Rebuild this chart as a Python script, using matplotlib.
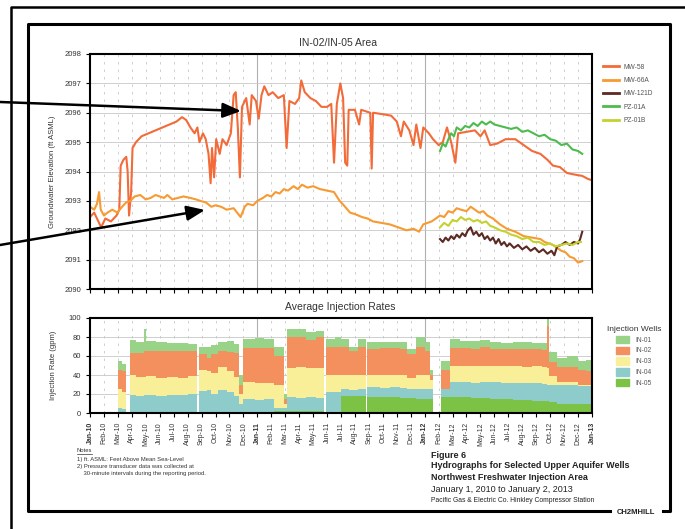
import matplotlib
matplotlib.use('Agg')
import numpy as np
import matplotlib.pyplot as plt
from matplotlib.lines import Line2D
import matplotlib.patches as mpatches

plt.rcParams['font.family'] = ['Liberation Sans', 'DejaVu Sans']

# ── Data (x = months since Jan 1, 2010) ──────────────────────────────────────
MONTHS = ['Jan', 'Feb', 'Mar', 'Apr', 'May', 'Jun',
          'Jul', 'Aug', 'Sep', 'Oct', 'Nov', 'Dec']
tick_labels = [f'{MONTHS[i % 12]}-{10 + i // 12}' for i in range(37)]

mw58_t = [0.0, 0.3, 0.6, 0.8, 1.1, 1.5, 1.9, 2.1, 2.2, 2.4, 2.6, 2.7, 2.8, 2.95,
          3.05, 3.3, 3.7, 4.2, 4.7, 5.2, 5.7, 6.2, 6.6, 6.9, 7.2, 7.5, 7.7, 7.85,
          8.1, 8.3, 8.5, 8.65, 8.75, 8.9, 9.05, 9.3, 9.5, 9.8, 10.1, 10.3, 10.45,
          10.6, 10.75, 10.9, 11.2, 11.45, 11.6, 11.9, 12.1, 12.3, 12.5, 12.8,
          13.1, 13.5, 13.9, 14.1, 14.3, 14.7, 15.0, 15.15, 15.4, 15.8, 16.2,
          16.6, 17.0, 17.3, 17.5, 17.7, 17.95, 18.15, 18.3, 18.45, 18.55, 19.0,
          19.3, 19.45, 20.1, 20.2, 20.3, 21.0, 21.6, 22.0, 22.3, 22.5, 22.9,
          23.2, 23.4, 23.7, 23.9, 24.3, 24.6, 25.0, 25.3, 25.6, 25.9, 26.2, 26.4,
          27.0, 27.6, 28.0, 28.3, 28.7, 29.2, 29.8, 30.5, 31.1, 31.7, 32.3, 32.8,
          33.2, 33.7, 34.2, 34.7, 35.3, 35.7, 36.0]
mw58_v = [2092.45, 2092.6, 2092.3, 2092.1, 2092.4, 2092.3, 2092.5, 2092.7,
          2094.2, 2094.4, 2094.5, 2094.0, 2092.5, 2093.3, 2094.8, 2095.0,
          2095.2, 2095.3, 2095.4, 2095.5, 2095.6, 2095.7, 2095.85, 2095.75,
          2095.5, 2095.3, 2095.5, 2095.0, 2095.3, 2095.1, 2094.6, 2093.6,
          2094.8, 2093.8, 2095.1, 2094.6, 2095.1, 2094.9, 2095.3, 2096.6,
          2096.7, 2095.5, 2093.8, 2096.2, 2096.5, 2095.6, 2096.6, 2096.4,
          2095.8, 2096.6, 2096.9, 2096.6, 2096.7, 2096.5, 2096.6, 2094.8,
          2096.4, 2096.3, 2096.5, 2097.1, 2096.7, 2096.5, 2096.4, 2096.2,
          2096.2, 2096.3, 2094.3, 2096.3, 2097.0, 2096.5, 2094.3, 2094.2,
          2096.1, 2096.1, 2095.6, 2096.1, 2096.0, 2094.1, 2096.0, 2095.95,
          2095.9, 2095.7, 2095.2, 2095.7, 2095.4, 2094.9, 2095.6, 2094.8,
          2095.5, 2095.3, 2095.1, 2094.9, 2095.0, 2095.5, 2095.0, 2094.3,
          2095.3, 2095.35, 2095.4, 2095.2, 2095.4, 2094.9, 2094.95, 2095.1,
          2095.1, 2094.9, 2094.7, 2094.6, 2094.4, 2094.2, 2094.15, 2093.95,
          2093.9, 2093.85, 2093.75, 2093.7]

mw66a_t = [0.0, 0.3, 0.5, 0.65, 0.77, 1.0, 1.25, 1.6, 1.96, 2.3,
           2.6, 2.9, 3.2, 3.6, 4.0, 4.35, 4.7, 5.0, 5.3, 5.55,
           5.9, 6.3, 6.7, 7.2, 7.6, 7.9, 8.3, 8.7, 9.0, 9.4,
           9.8, 10.3, 10.55, 10.8, 11.1, 11.3, 11.7, 12.0, 12.4, 12.7,
           13.0, 13.3, 13.6, 13.9, 14.2, 14.6, 14.9, 15.2, 15.6, 16.0,
           16.5, 17.0, 17.5, 17.9, 18.2, 18.65, 19.0, 19.5, 19.9, 20.3,
           20.9, 21.5, 22.1, 22.7, 23.2, 23.6, 23.9, 24.5, 25.1, 25.4,
           25.7, 26.0, 26.3, 26.6, 27.0, 27.3, 27.6, 27.9, 28.2, 28.5,
           28.9, 29.4, 29.9, 30.5, 31.1, 31.7, 32.3, 32.6, 32.9, 33.2,
           33.5, 33.8, 34.1, 34.4, 34.7, 35.0, 35.3]
mw66a_v = [2092.8, 2092.7, 2092.9, 2093.3, 2092.7, 2092.5, 2092.6, 2092.7, 2092.6, 2092.8,
           2092.95, 2093.0, 2093.15, 2093.2, 2093.05, 2093.1, 2093.2, 2093.15, 2093.1, 2093.2,
           2093.05, 2093.1, 2093.15, 2093.1, 2093.05, 2093.0, 2092.95, 2092.8, 2092.85, 2092.8,
           2092.7, 2092.75, 2092.6, 2092.45, 2092.8, 2092.9, 2092.85, 2093.0, 2093.1, 2093.2,
           2093.15, 2093.3, 2093.25, 2093.4, 2093.35, 2093.5, 2093.4, 2093.55, 2093.45, 2093.5,
           2093.4, 2093.35, 2093.3, 2093.0, 2092.85, 2092.6, 2092.55, 2092.45, 2092.4, 2092.3,
           2092.25, 2092.2, 2092.1, 2092.0, 2092.05, 2091.95, 2092.2, 2092.3, 2092.5, 2092.45,
           2092.65, 2092.6, 2092.75, 2092.7, 2092.65, 2092.8, 2092.7, 2092.6, 2092.65, 2092.5,
           2092.4, 2092.2, 2092.05, 2091.95, 2091.8, 2091.75, 2091.7, 2091.6, 2091.55, 2091.5,
           2091.4, 2091.3, 2091.25, 2091.1, 2091.05, 2090.9, 2090.95]

mw121d_t = [25.1, 25.3, 25.5, 25.7, 25.9, 26.1, 26.3, 26.5, 26.7, 26.9,
            27.1, 27.3, 27.5, 27.7, 27.9, 28.1, 28.3, 28.5, 28.7, 28.9,
            29.1, 29.3, 29.5, 29.7, 29.9, 30.1, 30.4, 30.7, 31.0, 31.3,
            31.6, 31.9, 32.2, 32.5, 32.8, 33.1, 33.3, 33.5, 33.8, 34.1,
            34.4, 34.7, 35.0, 35.15, 35.3]
mw121d_v = [2091.7, 2091.6, 2091.75, 2091.65, 2091.8, 2091.7, 2091.85, 2091.75, 2091.9, 2091.8,
            2092.0, 2092.1, 2091.85, 2091.95, 2091.8, 2091.9, 2091.7, 2091.8, 2091.65, 2091.75,
            2091.55, 2091.7, 2091.5, 2091.6, 2091.45, 2091.55, 2091.4, 2091.5, 2091.35, 2091.45,
            2091.3, 2091.4, 2091.25, 2091.35, 2091.2, 2091.3, 2091.15, 2091.45, 2091.5, 2091.6,
            2091.5, 2091.6, 2091.55, 2091.7, 2091.95]

pz01a_t = [25.1, 25.3, 25.5, 25.7, 25.9, 26.1, 26.3, 26.6, 26.9, 27.2,
           27.5, 27.8, 28.1, 28.4, 28.7, 29.0, 29.4, 29.8, 30.2, 30.6,
           31.0, 31.4, 31.8, 32.2, 32.6, 33.0, 33.4, 33.8, 34.2, 34.6,
           35.0, 35.3]
pz01a_v = [2094.7, 2094.95, 2094.85, 2095.1, 2095.3, 2095.2, 2095.5, 2095.4, 2095.55, 2095.5,
           2095.65, 2095.55, 2095.7, 2095.6, 2095.7, 2095.6, 2095.55, 2095.5, 2095.45, 2095.5,
           2095.35, 2095.4, 2095.3, 2095.2, 2095.25, 2095.1, 2095.05, 2094.9, 2094.95, 2094.75,
           2094.7, 2094.6]

pz01b_t = [25.1, 25.4, 25.7, 26.0, 26.3, 26.6, 26.9, 27.2, 27.5, 27.8,
           28.1, 28.4, 28.7, 29.0, 29.4, 29.8, 30.2, 30.6, 31.0, 31.4,
           31.8, 32.2, 32.6, 33.0, 33.4, 33.8, 34.2, 34.6, 35.0, 35.2]
pz01b_v = [2092.1, 2092.25, 2092.15, 2092.35, 2092.3, 2092.45, 2092.35, 2092.4, 2092.3, 2092.35,
           2092.25, 2092.3, 2092.15, 2092.1, 2092.0, 2091.95, 2091.85, 2091.8, 2091.7, 2091.75,
           2091.6, 2091.6, 2091.5, 2091.55, 2091.45, 2091.5, 2091.55, 2091.5, 2091.6, 2091.6]

inj_t = [0.0, 2.0, 2.3, 2.6, 2.9, 3.3, 3.9, 4.0, 4.7, 5.5, 6.3, 7.0, 7.7, 7.8,
         8.4, 8.7, 9.2, 9.8, 10.3, 10.7, 11.0, 11.8, 12.5, 13.2, 13.9, 14.1,
         14.8, 15.5, 16.2, 16.8, 16.9, 17.6, 18.0, 18.6, 19.2, 19.8, 19.9, 20.8,
         21.5, 22.2, 22.7, 23.4, 24.0, 24.4, 24.6, 25.2, 25.8, 26.5, 27.3, 28.0,
         28.7, 29.5, 30.3, 31.0, 31.7, 32.4, 32.8, 32.9, 33.5, 34.2, 35.0, 35.6,
         36.0]
in05 = [0, 0, 0, 0, 0, 0, 0, 0, 0, 0, 0, 0, 0, 0, 0, 0, 0, 0, 0, 0, 0, 0, 0,
        2, 2, 2, 2, 2, 2, 0, 0, 0, 18, 18, 18, 0, 17, 17, 17, 16, 16, 15, 15,
        15, 0, 17, 17, 17, 16, 16, 15, 15, 14, 14, 13, 13, 13, 12, 10, 10, 10,
        10, 10]
in04 = [0, 5, 4, 0, 19, 18, 19, 19, 18, 19, 19, 20, 0, 23, 24, 20, 24, 22, 18,
        10, 15, 14, 15, 3, 3, 15, 14, 15, 14, 0, 22, 22, 7, 6, 7, 0, 10, 9, 10,
        10, 9, 10, 10, 10, 0, 8, 16, 16, 16, 17, 18, 17, 18, 18, 19, 18, 17,
        17, 20, 20, 18, 18, 18]
in03 = [0, 20, 18, 0, 21, 20, 19, 20, 19, 19, 18, 19, 0, 22, 20, 22, 24, 22,
        20, 10, 18, 18, 17, 25, 5, 30, 32, 30, 31, 0, 18, 18, 15, 16, 15, 0,
        13, 14, 13, 14, 12, 15, 15, 10, 0, 0, 17, 16, 17, 17, 16, 18, 17, 16,
        17, 17, 17, 10, 3, 3, 2, 2, 2]
in02 = [0, 20, 22, 0, 23, 25, 27, 26, 28, 27, 28, 26, 0, 17, 14, 20, 17, 20,
        25, 10, 35, 36, 36, 30, 5, 33, 32, 30, 33, 0, 30, 30, 30, 25, 30, 0,
        27, 28, 28, 27, 25, 30, 25, 5, 0, 20, 18, 19, 18, 19, 18, 17, 18, 19,
        18, 18, 45, 15, 15, 15, 15, 14, 14]
in01 = [0, 10, 8, 0, 14, 12, 23, 11, 10, 9, 9, 8, 0, 8, 12, 10, 10, 12, 10,
        10, 10, 11, 10, 10, 5, 8, 8, 8, 6, 0, 8, 10, 8, 5, 8, 0, 8, 7, 7, 8,
        5, 10, 10, 5, 0, 10, 10, 8, 9, 8, 8, 7, 8, 8, 7, 8, 8, 10, 10, 12, 10,
        12, 12]

# ── Styles ───────────────────────────────────────────────────────────────────
LINE_COLORS = {'MW-58': '#f26b38', 'MW-66A': '#f79a32', 'MW-121D': '#5c2a22',
               'PZ-01A': '#4dbb4d', 'PZ-01B': '#c5d22e'}
WELL_COLORS = {'IN-01': '#98d387', 'IN-02': '#f48f5e', 'IN-03': '#f8ef98',
               'IN-04': '#8ecbcb', 'IN-05': '#7cc245'}
GRID = '#c8c8c8'
TXT = '#333333'

W, H = 685, 529
fig = plt.figure(figsize=(W / 100, H / 100), dpi=100)
fig.patch.set_facecolor('white')


def px_axes(x0, y0, x1, y1):
    return fig.add_axes([x0 / W, 1 - y1 / H, (x1 - x0) / W, (y1 - y0) / H])


def style_time_axis(ax):
    ax.set_xlim(0, 36)
    ax.set_xticks(range(37))
    for m in range(1, 36):
        if m % 12 == 0:
            ax.axvline(m, color='#b0b0b0', lw=0.8, zorder=0.5)
        else:
            ax.axvline(m, color=GRID, lw=0.6, ls=(0, (3, 6)), zorder=0.5)
    for s in ax.spines.values():
        s.set_linewidth(1.5)
    ax.tick_params(axis='both', direction='out', length=3, width=0.8,
                   colors='black', labelcolor=TXT, labelsize=5.5)


# ── Top panel: hydrographs ───────────────────────────────────────────────────
ax1 = px_axes(90, 54, 592, 289)
style_time_axis(ax1)
ax1.set_ylim(2090, 2098)
ax1.set_yticks(range(2090, 2099))
for yv in range(2091, 2098):
    ax1.axhline(yv, color=GRID, lw=0.6, zorder=0.5)
ax1.tick_params(axis='x', labelbottom=False)
series = [('MW-58', mw58_t, mw58_v), ('MW-66A', mw66a_t, mw66a_v),
          ('MW-121D', mw121d_t, mw121d_v), ('PZ-01A', pz01a_t, pz01a_v),
          ('PZ-01B', pz01b_t, pz01b_v)]
for name, tt, vv in series:
    ax1.plot(tt, vv, color=LINE_COLORS[name], lw=1.5, label=name)
ax1.set_ylabel('Groundwater Elevation (ft ASML)', fontsize=5.5, color=TXT,
               labelpad=6)
leg1 = ax1.legend(loc='upper left', bbox_to_anchor=(600 / W, 1 - 61 / H),
                  bbox_transform=fig.transFigure, frameon=False, fontsize=4.8,
                  handlelength=2.4, labelspacing=0.95, borderaxespad=0,
                  handletextpad=0.8)
for t in leg1.get_texts():
    t.set_color('#555555')
for l in leg1.get_lines():
    l.set_linewidth(2.0)

# ── Bottom panel: stacked injection rates ────────────────────────────────────
ax2 = px_axes(90, 318, 592, 413)
style_time_axis(ax2)
ax2.set_ylim(0, 100)
ax2.set_yticks(range(0, 101, 20))
for yv in range(20, 100, 20):
    ax2.axhline(yv, color=GRID, lw=0.6, zorder=0.5)
stack = [('IN-05', in05), ('IN-04', in04), ('IN-03', in03),
         ('IN-02', in02), ('IN-01', in01)]
base = np.zeros(len(inj_t))
for name, vals in stack:
    top = base + np.array(vals, dtype=float)
    ax2.fill_between(inj_t, base, top, step='post', color=WELL_COLORS[name],
                     lw=0, zorder=1)
    base = top
ax2.set_xticklabels(tick_labels, rotation=90, fontsize=5)
for i, lab in enumerate(ax2.get_xticklabels()):
    if i % 12 == 0:
        lab.set_fontweight('bold')
ax2.set_ylabel('Injection Rate (gpm)', fontsize=5.5, color=TXT, labelpad=8)
handles = [mpatches.Patch(color=WELL_COLORS[n], label=n)
           for n in ['IN-01', 'IN-02', 'IN-03', 'IN-04', 'IN-05']]
leg2 = ax2.legend(handles=handles, loc='upper left',
                  bbox_to_anchor=(604 / W, 1 - 323 / H),
                  bbox_transform=fig.transFigure, frameon=False, fontsize=4.8,
                  title='Injection Wells', title_fontsize=6,
                  handlelength=2.0, handleheight=1.3, labelspacing=0.45,
                  borderaxespad=0, handletextpad=1.0)
for t in leg2.get_texts():
    t.set_color('#555555')
leg2.get_title().set_color(TXT)

# ── Page overlay: frames, arrows, titles, notes ──────────────────────────────
ov = fig.add_axes([0, 0, 1, 1], zorder=10)
ov.set_xlim(0, W)
ov.set_ylim(H, 0)
ov.axis('off')
ov.patch.set_alpha(0)

ov.add_line(Line2D([11, 11, W], [H, 7, 7], color='black', lw=1.8))
ov.add_line(Line2D([610, 28, 28, 670, 670, 663], [511, 511, 24, 24, 511, 511],
                   color='black', lw=2.2))
ov.text(636, 512, 'CH2MHILL', fontsize=5.5, fontweight='bold',
        ha='center', va='center', color='#222222')

for (x0, y0), (x1, y1) in [((0, 102), (241, 111)), ((0, 245), (205, 210))]:
    ov.annotate('', xy=(x1, y1), xytext=(x0, y0),
                arrowprops=dict(arrowstyle='-|>,head_length=1.1,head_width=0.45',
                                color='black', lw=1.8, shrinkA=0, shrinkB=0))

ov.text(338, 43, 'IN-02/IN-05 Area', fontsize=7.5, color=TXT,
        ha='center', va='center')
ov.text(340, 307, 'Average Injection Rates', fontsize=7.5, color=TXT,
        ha='center', va='center')

ov.text(77, 451, 'Notes', fontsize=4.2, color=TXT, va='center')
ov.add_line(Line2D([77, 92], [454, 454], color=TXT, lw=0.5))
notes = ['1) ft. ASML: Feet Above Mean Sea-Level',
         '2) Pressure transducer data was collected at',
         '    30-minute intervals during the reporting period.']
for i, line in enumerate(notes):
    ov.text(77, 459 + 7.5 * i, line, fontsize=4.2, color=TXT, va='center')

ov.text(431, 455, 'Figure 6', fontsize=6.5, fontweight='bold', color='#222222',
        va='center')
ov.text(431, 466, 'Hydrographs for Selected Upper Aquifer Wells', fontsize=6.5,
        fontweight='bold', color='#222222', va='center')
ov.text(431, 477, 'Northwest Freshwater Injection Area', fontsize=6.5,
        fontweight='bold', color='#222222', va='center')
ov.text(431, 489, 'January 1, 2010 to January 2, 2013', fontsize=6.5,
        color='#222222', va='center')
ov.text(431, 501, 'Pacific Gas & Electric Co. Hinkley Compressor Station',
        fontsize=4.9, color='#222222', va='center')

fig.savefig('out.png', dpi=100)
